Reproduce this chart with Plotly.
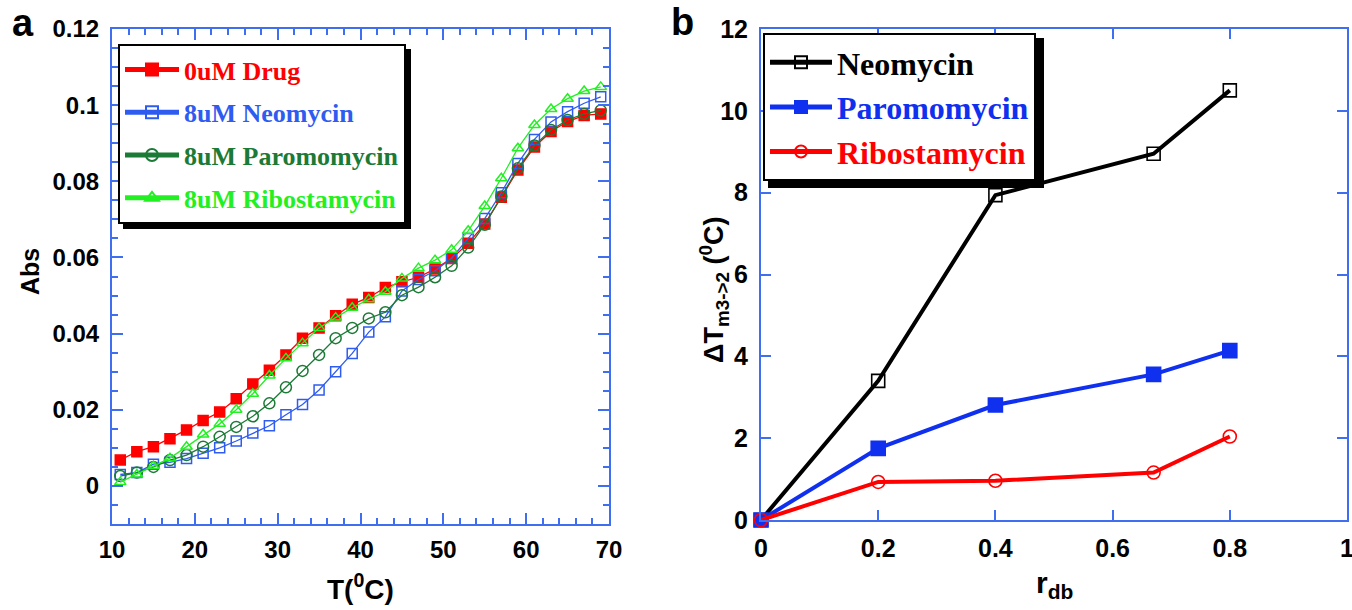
import plotly.graph_objects as go

# ---------------- data: panel a ----------------
temp = [11, 13, 15, 17, 19, 21, 23, 25, 27, 29, 31, 33, 35, 37, 39,
        41, 43, 45, 47, 49, 51, 53, 55, 57, 59, 61, 63, 65, 67, 69]
abs_drug0 = [0.0068, 0.0090, 0.0103, 0.0124, 0.0147, 0.0172, 0.0194, 0.0229, 0.0268, 0.0304,
             0.0344, 0.0388, 0.0415, 0.0447, 0.0477, 0.0495, 0.0521, 0.0536, 0.0548, 0.0570,
             0.0597, 0.0637, 0.0688, 0.0758, 0.0830, 0.0890, 0.0931, 0.0957, 0.0973, 0.0977]
abs_neo = [0.0030, 0.0035, 0.0057, 0.0062, 0.0072, 0.0086, 0.0100, 0.0118, 0.0139, 0.0158,
           0.0187, 0.0214, 0.0252, 0.0300, 0.0348, 0.0404, 0.0444, 0.0512, 0.0542, 0.0565,
           0.0598, 0.0650, 0.0702, 0.0770, 0.0847, 0.0910, 0.0956, 0.0983, 0.1005, 0.1022]
abs_paro = [0.0026, 0.0035, 0.0050, 0.0068, 0.0081, 0.0103, 0.0129, 0.0155, 0.0183, 0.0217,
            0.0259, 0.0302, 0.0344, 0.0388, 0.0415, 0.0440, 0.0456, 0.0501, 0.0522, 0.0548,
            0.0578, 0.0626, 0.0686, 0.0760, 0.0834, 0.0894, 0.0935, 0.0961, 0.0977, 0.0986]
abs_ribo = [0.0010, 0.0030, 0.0052, 0.0073, 0.0103, 0.0135, 0.0163, 0.0200, 0.0242, 0.0290,
            0.0335, 0.0375, 0.0415, 0.0442, 0.0468, 0.0490, 0.0510, 0.0545, 0.0572, 0.0593,
            0.0620, 0.0670, 0.0735, 0.0808, 0.0887, 0.0948, 0.0990, 0.1017, 0.1037, 0.1048]
names_a = ["0uM Drug", "8uM Neomycin", "8uM Paromomycin", "8uM Ribostamycin"]

# ---------------- data: panel b ----------------
rdb = [0, 0.2, 0.4, 0.67, 0.8]
dtm_neo = [0, 3.40, 7.94, 8.95, 10.50]
dtm_paro = [0, 1.75, 2.81, 3.56, 4.14]
dtm_ribo = [0, 0.93, 0.96, 1.16, 2.04]
names_b = ["Neomycin", "Paromomycin", "Ribostamycin"]

# ---------------- style ----------------
W, H = 1352, 610
AX = "#3f6ef0"
SANS = "Liberation Sans"
SERIF = "Liberation Serif"
RED = "#ff0000"
BLUE_A = "#2f5cf0"
DKGREEN = "#1b7a35"
LTGREEN = "#22f022"
BLUE_B = "#1030f0"

def px_x(p):
    return p / W

def px_y(p):
    return 1 - p / H

def leg_name(txt, col):
    return '<span style="color:%s">%s</span>' % (col, txt)

fig = go.Figure()

# panel a traces
specs_a = [
    (abs_drug0, RED, "square", RED, 10),
    (abs_neo, BLUE_A, "square-open", BLUE_A, 10),
    (abs_paro, DKGREEN, "circle-open", DKGREEN, 11),
    (abs_ribo, LTGREEN, "triangle-up-open", LTGREEN, 10),
]
for i, (ys, col, sym, tcol, sz) in enumerate(specs_a):
    fig.add_trace(go.Scatter(
        x=temp, y=ys, mode="lines+markers", name=leg_name(names_a[i], tcol),
        line=dict(color=col, width=1.3),
        marker=dict(symbol=sym, size=sz, color=col, line=dict(color=col, width=1.5)),
        xaxis="x", yaxis="y", legend="legend", legendgroup="a%d" % i,
        cliponaxis=False,
    ))

# panel b traces
specs_b = [
    (dtm_neo, "#000000", "square-open", 13, "#000000"),
    (dtm_paro, BLUE_B, "square", 14, BLUE_B),
    (dtm_ribo, RED, "circle-open", 13, RED),
]
for i, (ys, col, sym, sz, tcol) in enumerate(specs_b):
    fig.add_trace(go.Scatter(
        x=rdb, y=ys, mode="lines+markers", name=leg_name(names_b[i], tcol),
        line=dict(color=col, width=4),
        marker=dict(symbol=sym, size=sz, color=col, line=dict(color=col, width=1.6)),
        xaxis="x2", yaxis="y2", legend="legend2", legendgroup="b%d" % i,
        cliponaxis=False,
    ))

tickfont_a = dict(family=SANS, size=24, color="black", weight="bold")
tickfont_b = dict(family=SANS, size=25, color="black", weight="bold")

common = dict(showline=True, linecolor=AX, linewidth=2, mirror="ticks",
              ticks="inside", tickcolor=AX, tickwidth=2, showgrid=False,
              zeroline=False, automargin=False, ticklabeloverflow="allow")

fig.update_layout(
    width=W, height=H,
    margin=dict(l=0, r=0, t=0, b=0, autoexpand=False),
    paper_bgcolor="white", plot_bgcolor="white",
    showlegend=True,
    xaxis=dict(domain=[px_x(112), px_x(609)], range=[10, 70], tick0=10, dtick=10,
               ticklen=11, anchor="y", ticklabelstandoff=3, tickfont=tickfont_a,
               minor=dict(dtick=2, ticklen=6, tickwidth=1.5, tickcolor=AX, ticks="inside"),
               **common),
    yaxis=dict(domain=[px_y(524), px_y(29)], range=[-0.01, 0.12], tick0=0, dtick=0.02,
               ticklen=11, anchor="x", ticklabelstandoff=6, tickfont=tickfont_a,
               minor=dict(dtick=0.005, ticklen=6, tickwidth=1.5, tickcolor=AX, ticks="inside"),
               **common),
    xaxis2=dict(domain=[px_x(761), px_x(1347)], range=[0, 1], tick0=0, dtick=0.2,
                ticklen=10, anchor="y2", ticklabelstandoff=5, tickfont=tickfont_b, **common),
    yaxis2=dict(domain=[px_y(520), px_y(29)], range=[0, 12], tick0=0, dtick=2,
                ticklen=10, anchor="x2", ticklabelstandoff=6, tickfont=tickfont_b, **common),
    legend=dict(x=px_x(118), y=px_y(44), xanchor="left", yanchor="top",
                bgcolor="white", bordercolor="black", borderwidth=2,
                font=dict(family=SERIF, size=26, color="black", weight="bold"),
                tracegroupgap=6, itemsizing="constant", itemwidth=54),
    legend2=dict(x=px_x(763), y=px_y(33), xanchor="left", yanchor="top",
                 bgcolor="white", bordercolor="black", borderwidth=2,
                 font=dict(family=SERIF, size=32, color="black", weight="bold"),
                 tracegroupgap=0, itemsizing="constant", itemwidth=62),
)

# legend shadows
shapes = [
    dict(type="rect", xref="paper", yref="paper", layer="above",
         x0=px_x(123), x1=px_x(411), y0=px_y(229), y1=px_y(49),
         fillcolor="black", line=dict(width=0)),
    dict(type="rect", xref="paper", yref="paper", layer="above",
         x0=px_x(768), x1=px_x(1044), y0=px_y(188), y1=px_y(38),
         fillcolor="black", line=dict(width=0)),
]
fig.update_layout(shapes=shapes)

ann_font = dict(family=SANS, color="black", weight="bold")
annotations = [
    dict(text="a", x=px_x(23), y=px_y(23), font=dict(size=38, **ann_font)),
    dict(text="b", x=px_x(682), y=px_y(22), font=dict(size=38, **ann_font)),
    dict(text="Abs", x=px_x(30), y=px_y(272), textangle=-90, font=dict(size=25, **ann_font)),
    dict(text="T(<sup>0</sup>C)", x=px_x(360), y=px_y(587), font=dict(size=28, **ann_font)),
    dict(text="r<sub>db</sub>", x=px_x(1054), y=px_y(584), font=dict(size=30, **ann_font)),
    dict(text="\u0394T<sub>m3->2</sub> (<sup>0</sup>C)", x=px_x(714), y=px_y(290), textangle=-90,
         font=dict(size=27, **ann_font)),
]
for a in annotations:
    a.update(xref="paper", yref="paper", showarrow=False, xanchor="center", yanchor="middle")
fig.update_layout(annotations=annotations)

fig.write_html("out.html")
